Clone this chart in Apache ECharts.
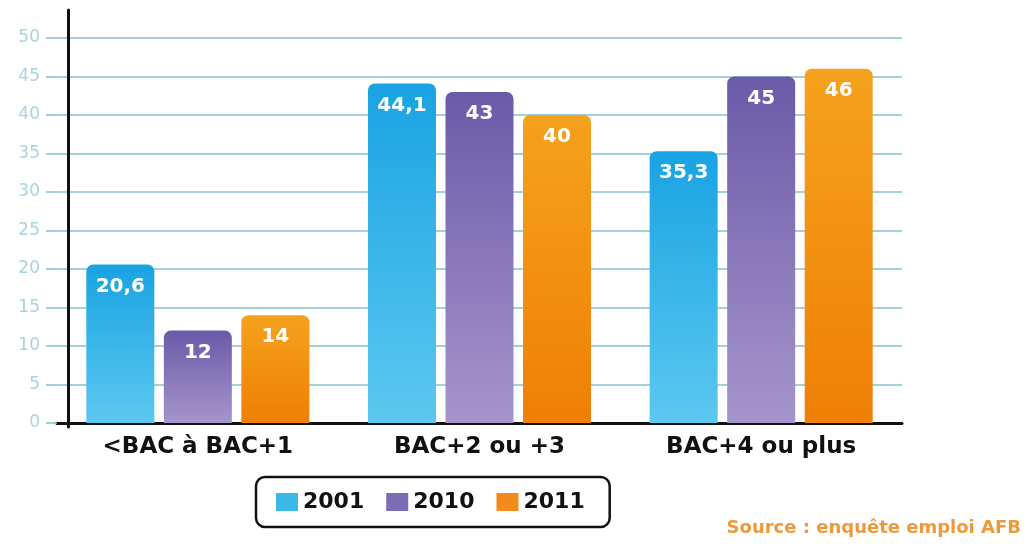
<!DOCTYPE html>
<html><head><meta charset="utf-8">
<script src="https://cdn.jsdelivr.net/npm/echarts@6/dist/echarts.min.js"></script>
<style>html,body{margin:0;padding:0;background:#fff}#c{width:1032px;height:551px}</style>
</head><body><div id="c"></div>
<script>
const categories = ['<BAC à BAC+1', 'BAC+2 ou +3', 'BAC+4 ou plus'];
const years = ['2001', '2010', '2011'];
const v2001 = [20.6, 44.1, 35.3];
const v2010 = [12, 43, 45];
const v2011 = [14, 40, 46];
const yTicks = [0, 5, 10, 15, 20, 25, 30, 35, 40, 45, 50];

const FONT = 'DejaVu Sans, Verdana, sans-serif';
const chart = echarts.init(document.getElementById('c'));
const grad = (top, bottom) => new echarts.graphic.LinearGradient(0, 0, 0, 1, [{offset: 0, color: top}, {offset: 1, color: bottom}]);
const colors = [grad('#19a3e2', '#5cc8f0'), grad('#6b5aa8', '#a595cc'), grad('#f5a21e', '#ef7f05')];
const legendColors = ['#3ab8e6', '#7b6cb4', '#f28a1c'];
const label = {
  show: true, position: 'insideTop', distance: 12,
  color: '#fff', fontWeight: 'bold', fontSize: 20, fontFamily: FONT,
  formatter: p => String(p.value).replace('.', ',')
};
const seriesData = [v2001, v2010, v2011];
chart.setOption({
  animation: false,
  title: {
    text: 'Source : enquête emploi AFB', right: 6, top: 514,
    textStyle: {color: '#ef9a3a', fontSize: 18, fontWeight: 'bold', fontFamily: FONT}
  },
  legend: {
    data: years.map((y, i) => ({name: y, itemStyle: {color: legendColors[i]}})),
    left: 256, top: 477, icon: 'rect', itemWidth: 22, itemHeight: 18, itemGap: 22,
    borderColor: '#111', borderWidth: 2.5, borderRadius: 9, padding: [14, 25, 14, 20],
    textStyle: {fontSize: 22, fontWeight: 'bold', color: '#111', fontFamily: FONT}
  },
  grid: [
    {left: 57, right: 130, top: 38, bottom: 128},
    {left: 68, right: 130, top: 10, bottom: 124}
  ],
  xAxis: [{
    type: 'category', data: categories, gridIndex: 0,
    axisLine: {lineStyle: {color: '#111', width: 3}},
    axisTick: {show: false},
    axisLabel: {fontSize: 23, fontWeight: 'bold', color: '#111', margin: 13, fontFamily: FONT}
  }, {type: 'value', gridIndex: 1, show: false}],
  yAxis: [{
    type: 'value', min: 0, max: 50, interval: 5, gridIndex: 0,
    axisLine: {show: false},
    axisTick: {show: true, length: 11, lineStyle: {color: '#84c0cc', width: 1.5}},
    axisLabel: {color: '#a9d3df', fontSize: 17, margin: 17, fontFamily: FONT,
      formatter: v => yTicks.includes(v) ? String(v) : ''},
    splitLine: {lineStyle: {color: '#84c0cc', width: 1.5}}
  }, {
    type: 'value', gridIndex: 1, min: 0, max: 1,
    axisLine: {show: true, lineStyle: {color: '#111', width: 3}},
    axisTick: {show: false}, axisLabel: {show: false}, splitLine: {show: false}
  }],
  series: years.map((y, i) => ({
    name: y, type: 'bar', data: seriesData[i], xAxisIndex: 0, yAxisIndex: 0,
    barWidth: 68, barGap: '14%',
    itemStyle: {color: colors[i], borderRadius: [7, 7, 0, 0]},
    label: label
  }))
});
</script></body></html>
